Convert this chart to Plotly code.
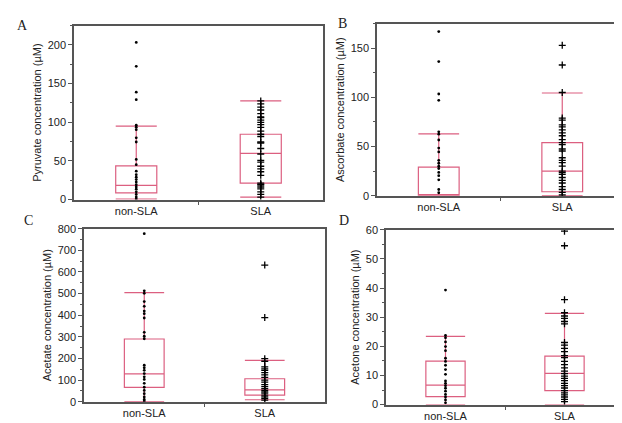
import plotly.graph_objects as go

categories = ["non-SLA", "SLA"]

# Panel A: Pyruvate
pyr_non = [203.3, 172.4, 138.9, 129.3, 96.2, 93.7, 90.4, 79.9, 74.5, 51.9, 45.2, 36.8, 32.2,
           28.9, 25.9, 22.6, 19.2, 16.3, 13.4, 10.0, 6.7, 3.3, 0.8]
pyr_sla = [127.6, 123.8, 119.7, 115.9, 111.3, 107.1, 106.0, 102.9, 99.8, 96.9, 93.5, 88.5, 84.5,
           81.6, 74.5, 73.2, 66.1, 59.0, 50.6, 48.5, 43.1, 39.7, 36.0, 31.4, 21.3, 19.6, 18.8,
           16.3, 13.8, 10.0, 6.7, 3.3]
pyr_stats = dict(q1=[8.8, 21.3], med=[18.4, 59.8], q3=[43.5, 84.5], lo=[0.5, 3.3], hi=[95.0, 127.6])

# Panel B: Ascorbate
asc_non = [167.0, 136.5, 103.5, 97.0, 65.0, 62.6, 56.7, 48.5, 44.5, 36.0, 33.0, 30.0, 27.7,
           23.7, 20.4, 16.2, 6.3, 3.0]
asc_sla = [153.0, 133.0, 105.0, 79.0, 77.0, 72.0, 70.0, 67.0, 64.0, 61.0, 57.0, 54.0, 52.0,
           47.5, 45.5, 38.6, 36.0, 33.6, 30.0, 25.0, 23.4, 21.8, 18.5, 15.5, 12.9, 9.2, 6.3,
           3.3, 0.7]
asc_stats = dict(q1=[0.0, 4.0], med=[0.0, 25.0], q3=[29.0, 54.0], lo=[0.0, 0.0], hi=[63.0, 104.5])

# Panel C: Acetate
ace_non = [777, 513, 501, 463, 441, 419, 407, 387, 321, 303, 291, 169, 157, 145, 130, 115, 103,
           85, 67, 52, 37, 22, 10, 3]
ace_sla = [632, 389, 199, 187, 161, 152, 145, 134, 124, 112, 100, 90, 79, 70, 60, 52, 45, 40,
           30, 22, 15, 7]
ace_stats = dict(q1=[66, 30], med=[128.5, 55], q3=[290, 106], lo=[0, 9], hi=[504, 191])

# Panel D: Acetone
acn_non = [39.3, 23.7, 22.9, 21.5, 19.9, 18.5, 15.9, 14.8, 13.5, 12.0, 10.4, 8.1, 7.3, 6.5,
           5.6, 4.6, 3.5, 2.6, 1.6, 0.6]
acn_sla = [59.5, 54.5, 36.0, 31.5, 30.4, 29.6, 28.5, 27.7, 21.3, 20.4, 19.3, 18.2, 16.8, 16.1,
           14.8, 13.7, 12.6, 11.5, 10.6, 9.8, 9.0, 8.2, 7.3, 6.5, 5.7, 4.8, 4.0, 3.3, 2.6, 1.8, 1.0]
acn_stats = dict(q1=[2.7, 4.8], med=[6.7, 10.7], q3=[14.9, 16.6], lo=[0.0, 0.0], hi=[23.4, 31.3])

panels = [
    ("A", pyr_non, pyr_sla, pyr_stats, "Pyruvate concentration (µM)", [0, 225], 50,
     [66 / 622, 315 / 622], [1 - 191 / 423, 1 - 12 / 423]),
    ("B", asc_non, asc_sla, asc_stats, "Ascorbate concentration (µM)", [0, 175], 50,
     [369 / 622, 616 / 622], [1 - 187 / 423, 1 - 10 / 423]),
    ("C", ace_non, ace_sla, ace_stats, "Acetate concentration (µM)", [0, 800], 100,
     [76 / 622, 317 / 622], [1 - 399 / 423, 1 - 221 / 423]),
    ("D", acn_non, acn_sla, acn_stats, "Acetone concentration (µM)", [0, 60], 10,
     [378 / 622, 616 / 622], [1 - 402 / 423, 1 - 222 / 423]),
]

label_pos = {"A": (14, 12), "B": (334, 10), "C": (20, 213), "D": (336, 213)}

BOX = "#dc5f80"
AXC = "#555555"
fig = go.Figure()
layout = {}
for i, (lab, non, sla, st, title, yr, dt, xd, yd) in enumerate(panels):
    n = "" if i == 0 else str(i + 1)
    xa, ya = "x" + n, "y" + n
    fig.add_trace(go.Box(
        x=[1, 2], q1=st["q1"], median=st["med"], q3=st["q3"],
        lowerfence=st["lo"], upperfence=st["hi"], width=0.33, whiskerwidth=1,
        line=dict(color=BOX, width=1.2), fillcolor="rgba(0,0,0,0)",
        boxpoints=False, xaxis=xa, yaxis=ya, showlegend=False, hoverinfo="skip"))
    fig.add_trace(go.Scatter(
        x=[1] * len(non), y=non, mode="markers", xaxis=xa, yaxis=ya, showlegend=False,
        marker=dict(symbol="circle", size=2.8, color="black")))
    fig.add_trace(go.Scatter(
        x=[2] * len(sla), y=sla, mode="markers", xaxis=xa, yaxis=ya, showlegend=False,
        marker=dict(symbol="cross-thin", size=5, color="black",
                    line=dict(color="black", width=1.3))))
    layout["xaxis" + n] = dict(
        domain=xd, anchor=ya, range=[0.5, 2.5], tickvals=[1, 2], ticktext=categories,
        ticks="", showgrid=False, zeroline=False, showline=True, mirror=True,
        linecolor=AXC, linewidth=1.5,
        minor=dict(tickvals=[1.5], ticks="outside", ticklen=4, tickcolor=AXC, tickwidth=1.3),
        tickfont=dict(family="Liberation Sans, Arial", size=11, color="#222"))
    layout["yaxis" + n] = dict(
        domain=yd, anchor=xa, range=yr, dtick=dt, tick0=0, ticks="outside", ticklen=4,
        tickcolor=AXC, tickwidth=1.3, showgrid=False, zeroline=False, showline=True,
        mirror=True, linecolor=AXC, linewidth=1.5,
        minor=dict(dtick=dt / 2, ticks="outside", ticklen=2, tickcolor=AXC, tickwidth=1),
        title=dict(text=title, font=dict(family="Liberation Sans, Arial", size=11, color="#222"),
                   standoff=4),
        tickfont=dict(family="Liberation Sans, Arial", size=11, color="#222"))

annots = []
for lab, (px, py) in label_pos.items():
    annots.append(dict(text=lab, x=px / 622, y=1 - py / 423, xref="paper", yref="paper",
                       showarrow=False, xanchor="center", yanchor="middle",
                       font=dict(family="Liberation Serif, Times New Roman", size=14,
                                 color="#222")))

fig.update_layout(width=622, height=423, margin=dict(l=0, r=0, t=0, b=0),
                  paper_bgcolor="white", plot_bgcolor="white", annotations=annots, **layout)
fig.write_html("out.html")
